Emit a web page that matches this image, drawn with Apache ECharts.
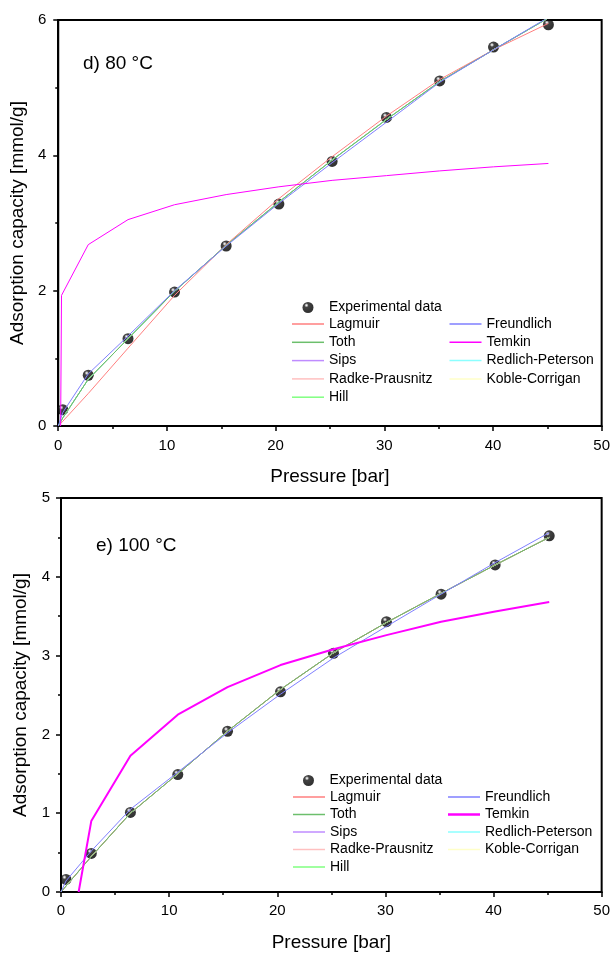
<!DOCTYPE html>
<html>
<head>
<meta charset="utf-8">
<script src="https://cdn.jsdelivr.net/npm/echarts@6/dist/echarts.min.js"></script>
<style>
html,body{margin:0;padding:0;background:#fff;}
#chart{width:613px;height:953px;}
</style>
</head>
<body>
<div id="chart"></div>
<script>
// ---------- 80 °C ----------
const expX80 = [0.42, 2.76, 6.42, 10.7, 15.45, 20.3, 25.2, 30.2, 35.1, 40.05, 45.1];
const expY80 = [0.24, 0.75, 1.29, 1.98, 2.66, 3.28, 3.91, 4.56, 5.10, 5.60, 5.93];
const fitX80 = [0, 0.42, 2.76, 6.42, 10.7, 15.45, 20.3, 25.2, 30.2, 35.1, 40.05, 45.1];
const langmuir80 = [0, 0.07, 0.48, 1.15, 1.93, 2.68, 3.36, 3.98, 4.58, 5.12, 5.56, 5.95];
const freundlich80 = [0, 0.20, 0.77, 1.33, 2.00, 2.66, 3.29, 3.89, 4.49, 5.08, 5.56, 6.04];
// Toth, Sips, Redlich-Peterson, Radke-Prausnitz, Koble-Corrigan, Hill coincide on the plot
const overlap80 = [0, 0.12, 0.69, 1.29, 1.99, 2.67, 3.31, 3.93, 4.53, 5.09, 5.56, 6.03];
const temkinX80 = [0.22, 0.30, 2.76, 6.42, 10.7, 15.45, 20.3, 25.2, 30.2, 35.1, 40.05, 45.1];
const temkin80 = [0, 1.93, 2.68, 3.05, 3.27, 3.42, 3.535, 3.63, 3.70, 3.77, 3.83, 3.88];

// ---------- 100 °C ----------
const expX100 = [0.46, 2.8, 6.42, 10.8, 15.4, 20.3, 25.2, 30.1, 35.15, 40.15, 45.15];
const expY100 = [0.16, 0.49, 1.01, 1.49, 2.04, 2.54, 3.03, 3.43, 3.78, 4.15, 4.52];
const fitX100 = [0, 0.46, 2.8, 6.42, 10.8, 15.4, 20.3, 25.2, 30.1, 35.15, 40.15, 45.15];
const freundlich100 = [0, 0.14, 0.52, 1.05, 1.52, 2.02, 2.51, 2.97, 3.37, 3.78, 4.18, 4.56];
// Lagmuir, Toth, Sips, Redlich-Peterson, Radke-Prausnitz, Koble-Corrigan, Hill coincide on the plot
const overlap100 = [0, 0.075, 0.45, 1.00, 1.50, 2.04, 2.57, 3.035, 3.42, 3.79, 4.15, 4.50];
const temkinX100 = [1.63, 2.8, 6.42, 10.8, 15.4, 20.3, 25.2, 30.1, 35.15, 40.15, 45.15];
const temkin100 = [0, 0.90, 1.73, 2.25, 2.60, 2.88, 3.08, 3.26, 3.43, 3.56, 3.68];

// ---------- labels ----------
const xTicks = [0, 10, 20, 30, 40, 50];
const panelLabels = ['d) 80 °C', 'e) 100 °C'];
const xName = 'Pressure [bar]';
const yName = 'Adsorption capacity [mmol/g]';
const legendCol1 = ['Lagmuir', 'Toth', 'Sips', 'Radke-Prausnitz', 'Hill'];
const legendCol2 = ['Freundlich', 'Temkin', 'Redlich-Peterson', 'Koble-Corrigan'];

const colors = {
  'Lagmuir': '#ff7f7f',
  'Freundlich': '#7f7fff',
  'Toth': '#6cbf6c',
  'Temkin': '#ff00ff',
  'Sips': '#bf8cff',
  'Redlich-Peterson': '#8cffff',
  'Radke-Prausnitz': '#ffc0c0',
  'Koble-Corrigan': '#ffffc8',
  'Hill': '#80ff80'
};

const FONT = '"Liberation Sans", Arial, sans-serif';
const zip = (xs, ys) => xs.map((x, i) => [x, ys[i]]);

const sphere = new echarts.graphic.RadialGradient(0.36, 0.3, 0.6, [
  {offset: 0, color: '#ffffff'},
  {offset: 0.12, color: '#c0c0c0'},
  {offset: 0.32, color: '#151515'},
  {offset: 1, color: '#000000'}
]);

const thinIcon = 'path://M0,0h32v1.5h-32z';
const thickIcon = 'path://M0,0h32v2.5h-32z';

function lineSeries(name, xs, ys, gi, width) {
  return {
    name: name, type: 'line', xAxisIndex: gi, yAxisIndex: gi,
    data: zip(xs, ys), symbol: 'none', smooth: false,
    lineStyle: {color: colors[name], width: width || 1},
    itemStyle: {color: colors[name]},
    z: 3, silent: true, clip: true
  };
}

function seriesFor(gi) {
  const ex = gi === 0 ? expX80 : expX100;
  const ey = gi === 0 ? expY80 : expY100;
  const fx = gi === 0 ? fitX80 : fitX100;
  const ov = gi === 0 ? overlap80 : overlap100;
  const lang = gi === 0 ? langmuir80 : overlap100;
  const fr = gi === 0 ? freundlich80 : freundlich100;
  const tx = gi === 0 ? temkinX80 : temkinX100;
  const ty = gi === 0 ? temkin80 : temkin100;
  return [
    {
      name: 'Experimental data', type: 'scatter', xAxisIndex: gi, yAxisIndex: gi,
      data: zip(ex, ey), symbol: 'circle', symbolSize: 11,
      itemStyle: {color: sphere}, z: 2, silent: true
    },
    lineSeries('Radke-Prausnitz', fx, ov, gi),
    lineSeries('Koble-Corrigan', fx, ov, gi),
    lineSeries('Redlich-Peterson', fx, ov, gi),
    lineSeries('Sips', fx, ov, gi),
    lineSeries('Hill', fx, ov, gi),
    lineSeries('Lagmuir', fx, lang, gi),
    lineSeries('Toth', fx, ov, gi),
    lineSeries('Freundlich', fx, fr, gi),
    lineSeries('Temkin', tx, ty, gi, gi === 0 ? 1 : 2)
  ];
}

function xAxisFor(gi) {
  return {
    type: 'value', gridIndex: gi, min: 0, max: 50, interval: 10,
    name: xName, nameLocation: 'middle', nameGap: 41,
    nameTextStyle: {fontSize: 19, color: '#000', fontFamily: FONT},
    axisLine: {show: true, lineStyle: {color: '#000', width: 2}},
    axisTick: {show: true, inside: false, length: 5, lineStyle: {color: '#000', width: 1.5}},
    minorTick: {show: true, splitNumber: 2, length: 3, lineStyle: {color: '#000', width: 1.5}},
    axisLabel: {fontSize: 15, color: '#000', fontFamily: FONT, margin: gi === 0 ? 12 : 11,
      formatter: v => xTicks.indexOf(v) >= 0 ? String(v) : ''},
    splitLine: {show: false}
  };
}

function yAxisFor(gi) {
  return {
    type: 'value', gridIndex: gi, min: 0, max: gi === 0 ? 6 : 5, interval: gi === 0 ? 2 : 1,
    name: yName, nameLocation: 'middle', nameGap: gi === 0 ? 23 : 21,
    nameTextStyle: {fontSize: 19, color: '#000', fontFamily: FONT},
    axisLine: {show: true, lineStyle: {color: '#000', width: 2}},
    axisTick: {show: true, inside: false, length: 5, lineStyle: {color: '#000', width: 1.5}},
    minorTick: {show: true, splitNumber: 2, length: 3, lineStyle: {color: '#000', width: 1.5}},
    axisLabel: {fontSize: 15, color: '#000', fontFamily: FONT, margin: gi === 0 ? 12 : 11},
    splitLine: {show: false}
  };
}

function legendsFor(gi) {
  const expTop = gi === 0 ? 300.5 : 773.5;
  const colTop = gi === 0 ? 317 : 790;
  const gap = gi === 0 ? 4.3 : 3.5;
  const l0 = gi === 0 ? 302.5 : 303;
  const l1 = gi === 0 ? 292 : 293;
  const l2 = gi === 0 ? 449.5 : 448;
  const ts = {fontSize: 14, color: '#000', fontFamily: FONT, lineHeight: 14};
  const base = {orient: 'vertical', padding: 0, itemWidth: 32, itemHeight: 14,
    itemGap: gap, selectedMode: false, textStyle: ts, inactiveColor: '#ccc'};
  const lineItem = n => ({name: n, icon: (n === 'Temkin' && gi === 1) ? thickIcon : thinIcon});
  return [
    Object.assign({}, base, {left: l0, top: expTop, itemHeight: 11, data: ['Experimental data']}),
    Object.assign({}, base, {left: l1, top: colTop, data: legendCol1.map(lineItem)}),
    Object.assign({}, base, {left: l2, top: colTop, data: legendCol2.map(lineItem)})
  ];
}

const chart = echarts.init(document.getElementById('chart'), null, {renderer: 'canvas'});
chart.setOption({
  animation: false,
  backgroundColor: '#fff',
  textStyle: {fontFamily: FONT},
  grid: [
    {left: 57, right: 6, top: 20, bottom: 527, show: true, borderColor: '#000', borderWidth: 2, backgroundColor: 'transparent'},
    {left: 61, right: 11, top: 498, bottom: 57, show: true, borderColor: '#000', borderWidth: 2, backgroundColor: 'transparent'}
  ],
  xAxis: [xAxisFor(0), xAxisFor(1)],
  yAxis: [yAxisFor(0), yAxisFor(1)],
  legend: legendsFor(0).concat(legendsFor(1)),
  graphic: [
    {type: 'text', left: 83, top: 54, style: {text: panelLabels[0], fontSize: 19, fill: '#000', fontFamily: FONT}},
    {type: 'text', left: 96, top: 536, style: {text: panelLabels[1], fontSize: 19, fill: '#000', fontFamily: FONT}}
  ],
  series: seriesFor(0).concat(seriesFor(1))
});
</script>
</body>
</html>
